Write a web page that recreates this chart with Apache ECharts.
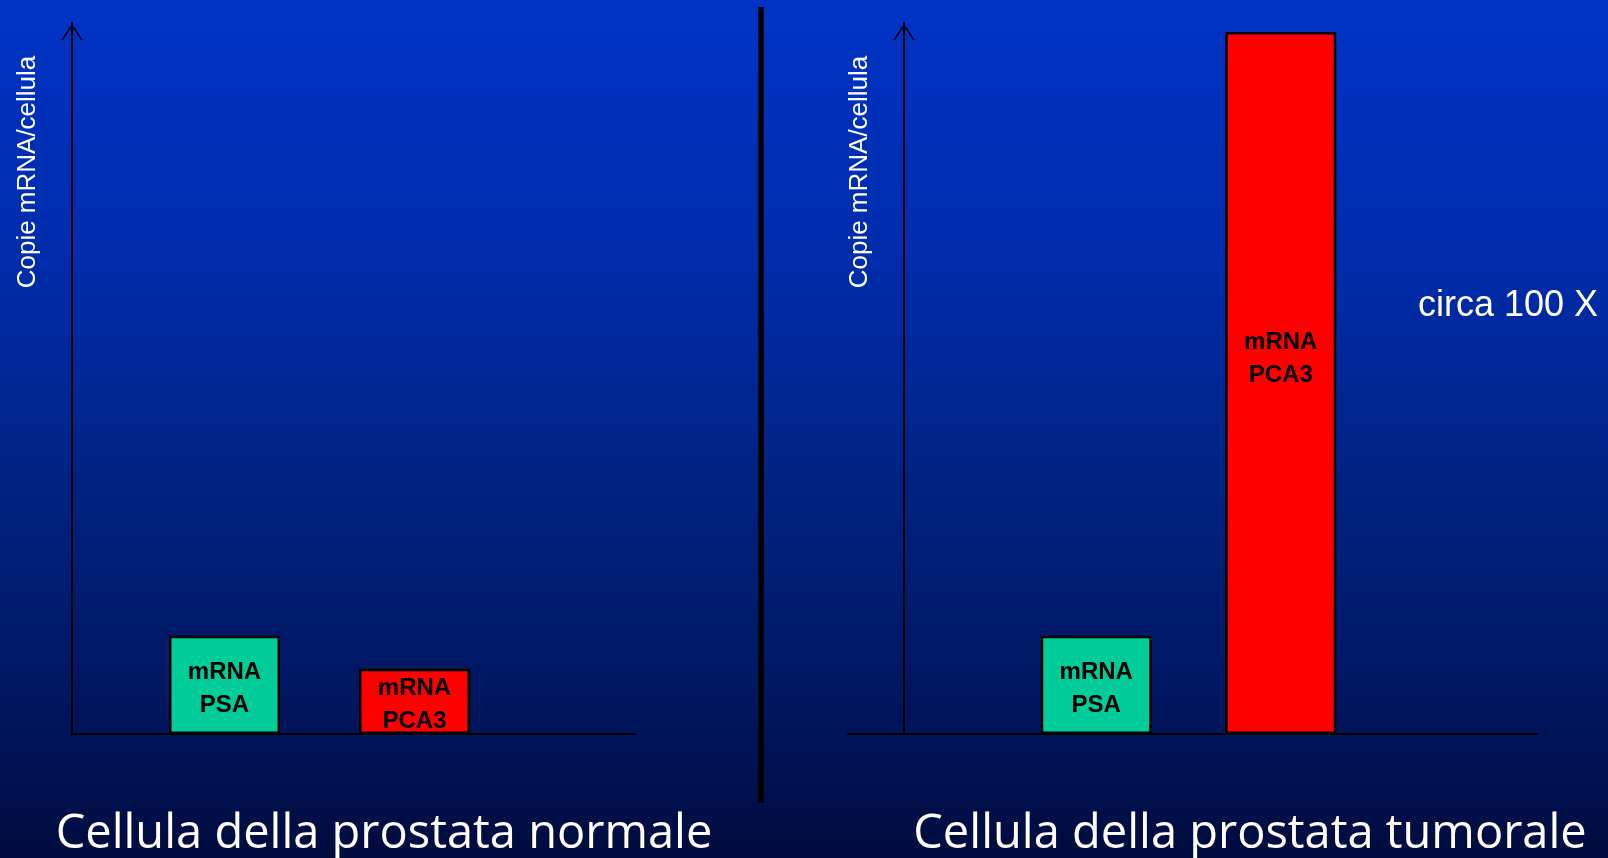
<!DOCTYPE html>
<html>
<head>
<meta charset="utf-8">
<script src="https://cdn.jsdelivr.net/npm/echarts@6/dist/echarts.min.js"></script>
<style>
html,body{margin:0;padding:0;width:1608px;height:858px;overflow:hidden;background:#001a66;}
#c{width:1608px;height:858px;}
</style>
</head>
<body>
<div id="c"></div>
<script>
// ---- data ----
const categories = ['mRNA\nPSA', 'mRNA\nPCA3'];
const normalValues = [14, 9.3];
const tumorValues = [14, 100];
const barColors = ['#00cc99', '#ff0000'];
const yAxisTitle = 'Copie mRNA/cellula';
const panelTitles = ['Cellula della prostata normale', 'Cellula della prostata tumorale'];
const noteText = 'circa 100 X';

// ---- chart ----
const chart = echarts.init(document.getElementById('c'));
const arrowPath = 'path://M10,0 L20,15.6 L18.7,16.4 L10,2.8 L1.3,16.4 L0,15.6 Z';
const plainAxis = { show: true, lineStyle: { color: '#000', width: 2 } };
const hidden = { axisLabel: { show: false }, axisTick: { show: false }, splitLine: { show: false } };

function axisX(grid) {
  return Object.assign({ type: 'value', gridIndex: grid, min: 0, max: 1, axisLine: plainAxis }, hidden);
}
function axisY(grid, offset) {
  return Object.assign({
    type: 'value', gridIndex: grid, min: 0, max: 1, offset: offset,
    axisLine: { show: true, lineStyle: { color: '#000', width: 2 },
      symbol: ['none', arrowPath], symbolSize: [21, 18], symbolOffset: [0, -9] }
  }, hidden);
}
function barX(grid) {
  return { type: 'category', gridIndex: grid, data: categories, show: false };
}
function barY(grid) {
  return { type: 'value', gridIndex: grid, min: 0, max: 100, show: false };
}
const labelStyle = {
  show: true, position: 'inside', formatter: '{b}', color: '#000', offset: [0, 4],
  fontFamily: '"Liberation Sans", Arial, sans-serif', fontWeight: 'bold',
  fontSize: 24, lineHeight: 33
};
function barData(values, offsets) {
  return values.map((v, i) => {
    const item = { value: v, itemStyle: { color: barColors[i] } };
    if (offsets && offsets[i]) item.label = { offset: offsets[i] };
    return item;
  });
}
function textEl(text, x, y, size, family, align, rotation) {
  return {
    type: 'text', x: x, y: y, rotation: rotation || 0, silent: true,
    style: { text: text, fill: '#fff', font: size + 'px ' + family,
      align: align || 'center', verticalAlign: 'middle' }
  };
}

const option = {
  backgroundColor: {
    type: 'linear', x: 0, y: 0, x2: 0, y2: 1,
    colorStops: [
      { offset: 0, color: '#0034c6' },
      { offset: 0.3, color: '#002cac' },
      { offset: 0.6, color: '#00217c' },
      { offset: 0.85, color: '#00145a' },
      { offset: 1, color: '#000c3e' }
    ]
  },
  animation: false,
  grid: [
    { left: 72, top: 23, width: 563, height: 711 },
    { left: 129.5, top: 32, width: 380, height: 702 },
    { left: 848, top: 23, width: 689, height: 711 },
    { left: 1004, top: 32, width: 369, height: 702 }
  ],
  xAxis: [axisX(0), barX(1), axisX(2), barX(3)],
  yAxis: [axisY(0, 0), barY(1), axisY(2, -56), barY(3)],
  series: [
    { type: 'bar', xAxisIndex: 1, yAxisIndex: 1, barWidth: 111,
      itemStyle: { borderColor: '#000', borderWidth: 2.5 },
      label: labelStyle, data: barData(normalValues) },
    { type: 'bar', xAxisIndex: 3, yAxisIndex: 3, barWidth: 111,
      itemStyle: { borderColor: '#000', borderWidth: 2.5 },
      label: labelStyle, data: barData(tumorValues, [null, [0, -24]]) }
  ],
  graphic: [
    { type: 'line', silent: true, shape: { x1: 761, y1: 7, x2: 761, y2: 803 },
      style: { stroke: '#000', lineWidth: 5.5 } },
    textEl(yAxisTitle, 28, 172, 26, '"Liberation Sans", Arial, sans-serif', 'center', Math.PI / 2),
    textEl(yAxisTitle, 859.5, 172, 26, '"Liberation Sans", Arial, sans-serif', 'center', Math.PI / 2),
    textEl(noteText, 1418, 306, 36, '"Liberation Sans", Arial, sans-serif', 'left'),
    textEl(panelTitles[0], 384, 835, 47, '"Comic Sans MS", "Open Sans", sans-serif', 'center'),
    textEl(panelTitles[1], 1250, 835, 47, '"Comic Sans MS", "Open Sans", sans-serif', 'center')
  ]
};
chart.setOption(option);
</script>
</body>
</html>
